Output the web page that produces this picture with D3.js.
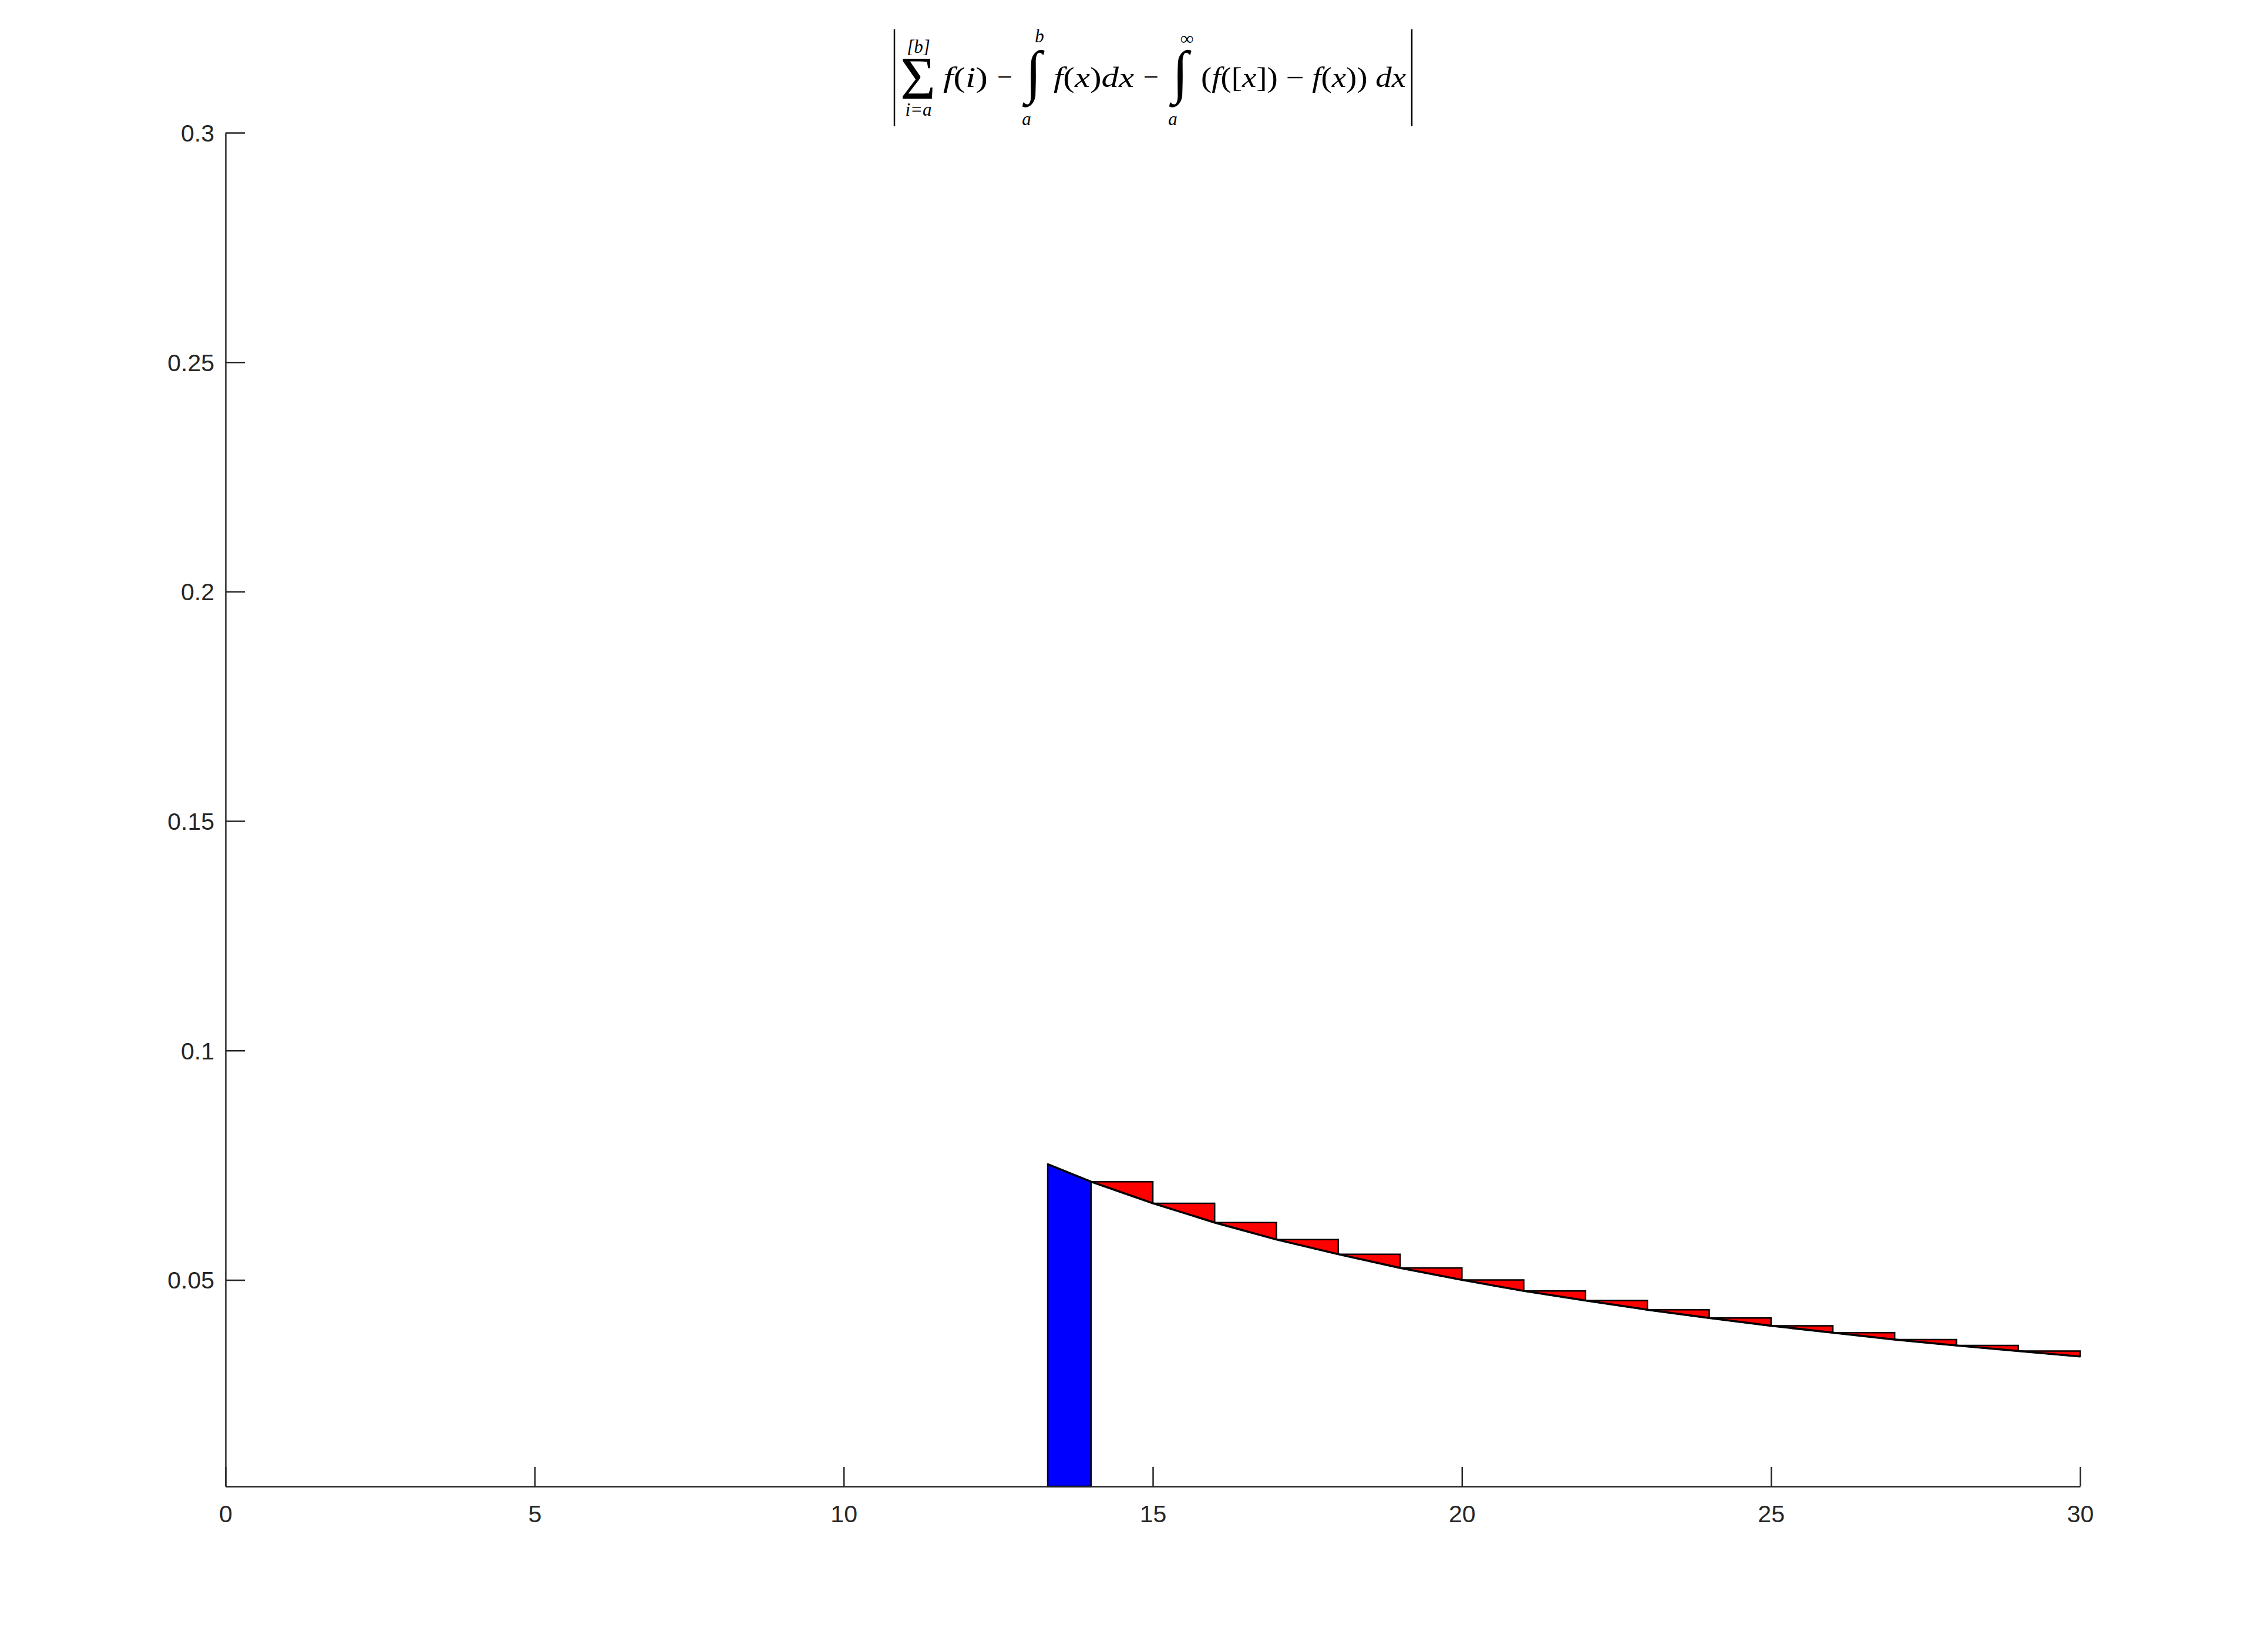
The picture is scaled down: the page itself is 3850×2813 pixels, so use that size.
<!DOCTYPE html>
<html>
<head>
<meta charset="utf-8">
<script src="https://cdn.jsdelivr.net/npm/d3@7"></script>
<style>
  body { margin: 0; background: #fff; }
  svg { display: block; }
</style>
</head>
<body>
<div id="main-chart"></div>
<script>
// values: f at the integer steps and along the curve
const stepStarts = [14, 15, 16, 17, 18, 19, 20, 21, 22, 23, 24, 25, 26, 27, 28, 29];
const stepHeights = [
  0.0714, 0.0667, 0.0625, 0.0588, 0.0556, 0.0526, 0.05, 0.0476,
  0.0455, 0.0435, 0.0417, 0.04, 0.0385, 0.037, 0.0357, 0.0345,
];
const curveX = [13.3, 14, 15, 16, 17, 18, 19, 20, 21, 22, 23, 24, 25, 26, 27, 28, 29, 30];
const curveY = [
  0.0752, 0.0714, 0.0667, 0.0625, 0.0588, 0.0556, 0.0526, 0.05, 0.0476,
  0.0455, 0.0435, 0.0417, 0.04, 0.0385, 0.037, 0.0357, 0.0345, 0.0333,
];
const blueFrom = 13.3;
const blueTo = 14;
const xTicks = [0, 5, 10, 15, 20, 25, 30];
const yTicks = [0.05, 0.1, 0.15, 0.2, 0.25, 0.3];
const yTickLabels = ["0.05", "0.1", "0.15", "0.2", "0.25", "0.3"];
const xDomain = [0, 30];
const yDomain = [0.005, 0.3];

const width = 3850;
const height = 2813;
const plot = { left: 384, right: 3542, top: 226, bottom: 2531 };
const axisColor = "#262626";
const tickLen = 33;

const svg = d3
  .select("#main-chart")
  .append("svg")
  .attr("width", width)
  .attr("height", height);

const xScale = d3.scaleLinear().domain(xDomain).range([plot.left, plot.right]);
const yScale = d3.scaleLinear().domain(yDomain).range([plot.bottom, plot.top]);

const curvePts = curveX.map((x, i) => ({ x, y: curveY[i] }));
const fAt = (x) => curvePts.find((p) => p.x === x).y;

// blue slab between a and the first integer
const blueArea = d3
  .area()
  .x((d) => xScale(d.x))
  .y0(yScale(yDomain[0]))
  .y1((d) => yScale(d.y));

svg
  .append("path")
  .datum(curvePts.filter((p) => p.x >= blueFrom && p.x <= blueTo))
  .attr("d", blueArea)
  .attr("fill", "#0000ff")
  .attr("stroke", "#000")
  .attr("stroke-width", 2.5);

// red pieces: f([x]) - f(x) on each unit step
const stepArea = d3
  .area()
  .x((d) => xScale(d.x))
  .y0((d) => yScale(d.y))
  .y1((d) => yScale(d.top));

svg
  .append("g")
  .selectAll("path")
  .data(stepStarts.map((s, i) => ({ s, top: stepHeights[i] })))
  .join("path")
  .attr("d", (d) =>
    stepArea([
      { x: d.s, y: fAt(d.s), top: d.top },
      { x: d.s + 1, y: fAt(d.s + 1), top: d.top },
    ])
  )
  .attr("fill", "#ff0000")
  .attr("stroke", "#000")
  .attr("stroke-width", 2.5);

// the curve itself
svg
  .append("path")
  .datum(curvePts)
  .attr(
    "d",
    d3
      .line()
      .x((d) => xScale(d.x))
      .y((d) => yScale(d.y))
  )
  .attr("fill", "none")
  .attr("stroke", "#000")
  .attr("stroke-width", 3.5);

// axes
const xAxis = svg
  .append("g")
  .attr("transform", `translate(0,${plot.bottom})`)
  .call(
    d3.axisBottom(xScale).tickValues(xTicks).tickSizeInner(-tickLen).tickSizeOuter(0).tickFormat(d3.format("d"))
  );
xAxis.selectAll("text").attr("y", 47).attr("dy", "0.35em");

const yAxis = svg
  .append("g")
  .attr("transform", `translate(${plot.left},0)`)
  .call(
    d3
      .axisLeft(yScale)
      .tickValues(yTicks)
      .tickSizeInner(-tickLen)
      .tickSizeOuter(0)
      .tickFormat((d, i) => yTickLabels[i])
  );
yAxis.selectAll("text").attr("x", -19).attr("dy", "0.35em");

svg.selectAll(".domain").attr("stroke", axisColor).attr("stroke-width", 2.5);
svg.selectAll(".tick line").attr("stroke", axisColor).attr("stroke-width", 2.5);
svg
  .selectAll(".tick text")
  .attr("fill", axisColor)
  .attr("font-family", "'Liberation Sans', Arial, sans-serif")
  .attr("font-size", 41);
svg.selectAll(".domain").raise();

// title formula
const title = svg
  .append("g")
  .attr("font-family", "'Liberation Serif', 'DejaVu Serif', serif")
  .attr("fill", "#000");

const addChars = (parent, str) => {
  str.split("").forEach((c) => {
    parent
      .append("tspan")
      .attr("font-style", /[a-z]/.test(c) ? "italic" : "normal")
      .text(c);
  });
};

const mathText = (x, y, str, size, len, anchor = "start") => {
  const t = title
    .append("text")
    .attr("x", x)
    .attr("y", y)
    .attr("font-size", size)
    .attr("text-anchor", anchor);
  if (len) t.attr("textLength", len).attr("lengthAdjust", "spacingAndGlyphs");
  addChars(t, str);
  return t;
};

// big operator with its limits kept in one text element
const bigOp = (op, opX, opY, opSize, opLen, upper, upperX, upperY, lower, lowerX, lowerY, limSize) => {
  const t = title.append("text").attr("text-anchor", "middle");
  const o = t
    .append("tspan")
    .attr("x", opX)
    .attr("y", opY)
    .attr("font-size", opSize)
    .text(op);
  if (opLen) o.attr("textLength", opLen).attr("lengthAdjust", "spacingAndGlyphs");
  const up = t
    .append("tspan")
    .attr("x", upperX)
    .attr("y", upperY)
    .attr("font-size", limSize)
    .attr("font-style", "italic")
    .text(upper);
  const lo = t
    .append("tspan")
    .attr("x", lowerX)
    .attr("y", lowerY)
    .attr("font-size", limSize)
    .attr("font-style", "italic")
    .text(lower);
  return t;
};

title
  .selectAll("line")
  .data([1523, 2404])
  .join("line")
  .attr("x1", (d) => d)
  .attr("x2", (d) => d)
  .attr("y1", 50)
  .attr("y2", 215)
  .attr("stroke", "#000")
  .attr("stroke-width", 2.5);

bigOp("\u03A3", 1563, 168, 104, 60, "[b]", 1564, 90, "i=a", 1564, 197, 31);
mathText(1606, 148, "f(i)", 48, 76);
mathText(1711, 146, "\u2212", 44, 26, "middle");
bigOp("\u222B", 1760, 156, 100, null, "b", 1770, 72, "a", 1748, 213, 31);
mathText(1794, 148, "f(x)dx", 48, 137);
mathText(1960, 146, "\u2212", 44, 26, "middle");
bigOp("\u222B", 2010, 156, 100, null, "\u221E", 2021, 76, "a", 1997, 213, 31);
mathText(2045, 148, "(f([x]) \u2212 f(x)) dx", 48, 349);
</script>
</body>
</html>
